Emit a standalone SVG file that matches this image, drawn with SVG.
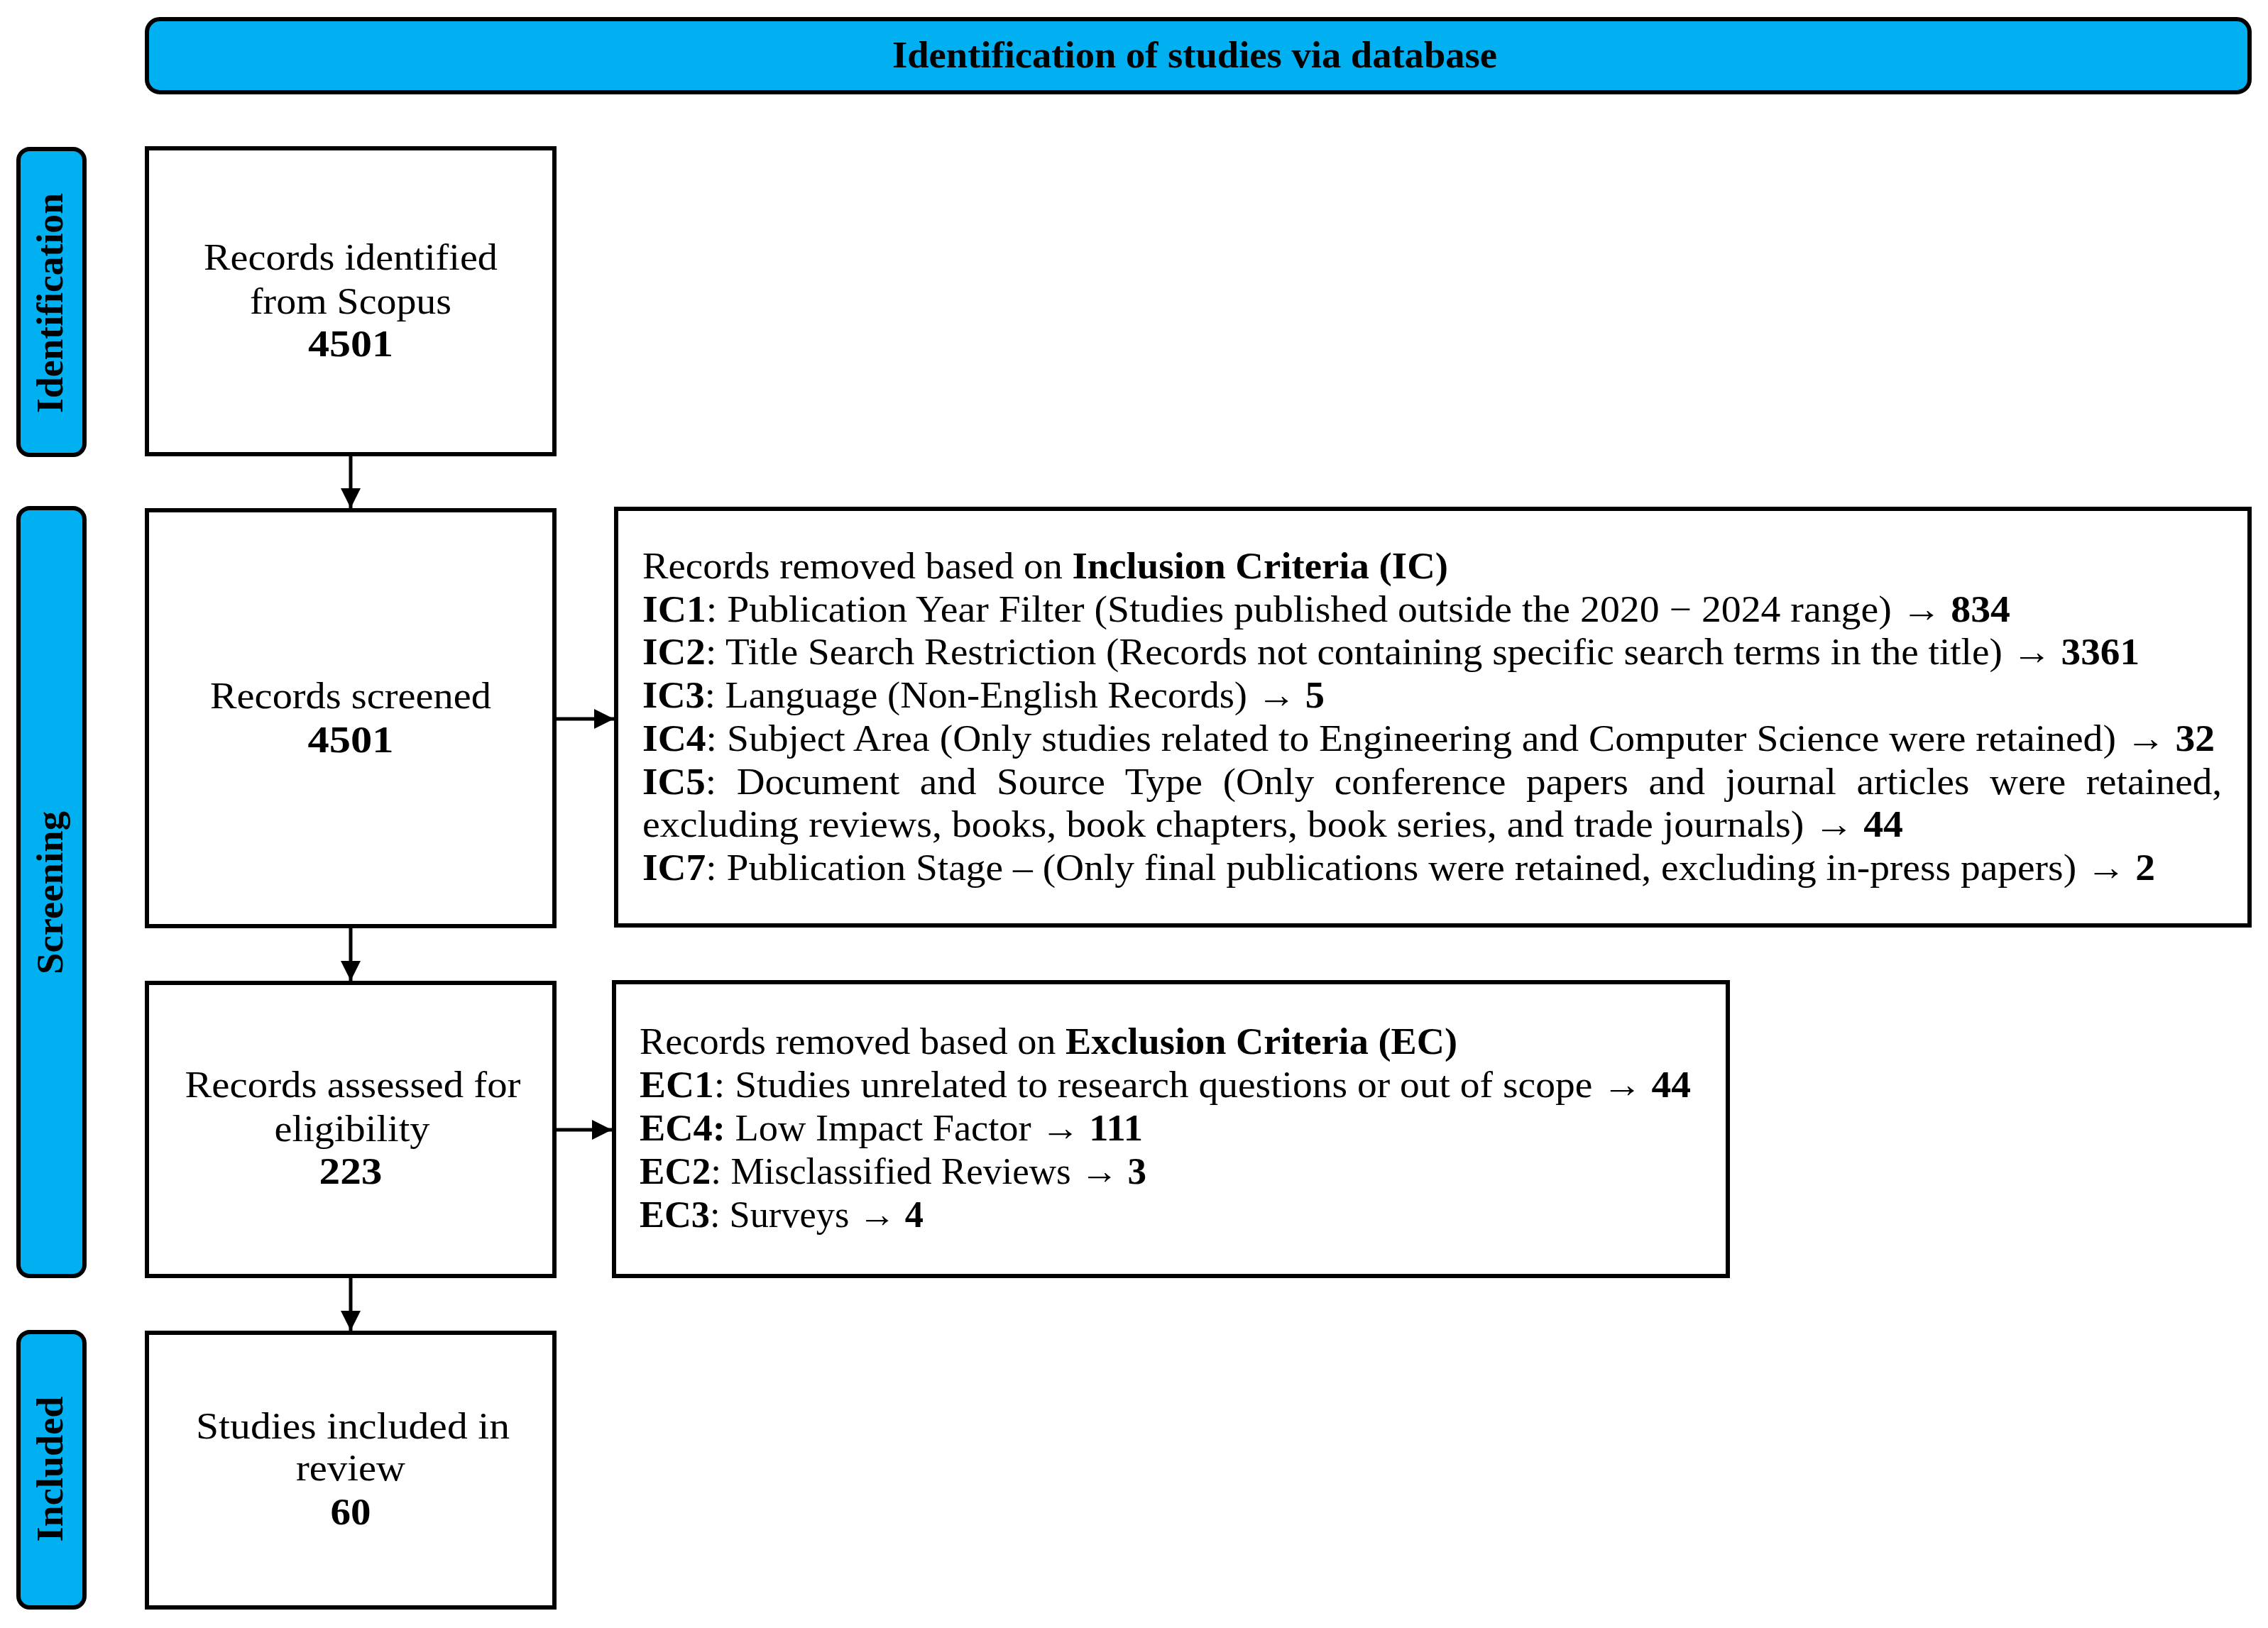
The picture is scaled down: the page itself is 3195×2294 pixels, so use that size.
<svg xmlns="http://www.w3.org/2000/svg" width="3195" height="2294" viewBox="0 0 3195 2294">
<style>
.box{fill:#fff;stroke:#000;stroke-width:6}
.lab{fill:#00B0F0;stroke:#000;stroke-width:6}
.t{font-family:"Liberation Serif","Times New Roman",serif;font-size:52px;fill:#000}
.c{text-anchor:middle}
.b{font-weight:bold}
.con{stroke:#000;stroke-width:5;fill:none;marker-end:url(#ah)}
</style>
<defs>
<marker id="ah" markerUnits="userSpaceOnUse" markerWidth="30" markerHeight="30" refX="28" refY="14" orient="auto"><path d="M0,0 L28,14 L0,28 z" fill="#000"/></marker>
</defs>
<rect width="3195" height="2294" fill="#fff"/>

<g id="banner">
<rect class="lab" x="207" y="27" width="2962" height="103" rx="18"/>
<text class="t c b" x="1683" y="95" textLength="852" lengthAdjust="spacingAndGlyphs">Identification of studies via database</text>
</g>

<g id="label-identification">
<rect class="lab" x="26" y="210" width="93" height="431" rx="16"/>
<text class="t c b" transform="translate(88,427) rotate(-90)" textLength="310" lengthAdjust="spacingAndGlyphs">Identification</text>
</g>
<g id="label-screening">
<rect class="lab" x="26" y="716" width="93" height="1082" rx="16"/>
<text class="t c b" transform="translate(88,1258) rotate(-90)" textLength="230" lengthAdjust="spacingAndGlyphs">Screening</text>
</g>
<g id="label-included">
<rect class="lab" x="26" y="1877" width="93" height="388" rx="16"/>
<text class="t c b" transform="translate(88,2070) rotate(-90)" textLength="205" lengthAdjust="spacingAndGlyphs">Included</text>
</g>

<g id="identified">
<rect class="box" x="207" y="209" width="574" height="431"/>
<text class="t c" x="494" y="380" textLength="414" lengthAdjust="spacingAndGlyphs">Records identified</text>
<text class="t c" x="494" y="442" textLength="284" lengthAdjust="spacingAndGlyphs">from Scopus</text>
<text class="t c b" x="494" y="502" textLength="120" lengthAdjust="spacingAndGlyphs">4501</text>
</g>

<g id="screened">
<rect class="box" x="207" y="719" width="574" height="586"/>
<text class="t c" x="494" y="998" textLength="396" lengthAdjust="spacingAndGlyphs">Records screened</text>
<text class="t c b" x="494" y="1060" textLength="121" lengthAdjust="spacingAndGlyphs">4501</text>
</g>

<g id="eligibility">
<rect class="box" x="207" y="1385" width="574" height="413"/>
<text class="t c" x="497" y="1546" textLength="473" lengthAdjust="spacingAndGlyphs">Records assessed for</text>
<text class="t c" x="496" y="1608" textLength="219" lengthAdjust="spacingAndGlyphs">eligibility</text>
<text class="t c b" x="494" y="1668" textLength="89" lengthAdjust="spacingAndGlyphs">223</text>
</g>

<g id="included">
<rect class="box" x="207" y="1878" width="574" height="387"/>
<text class="t c" x="497" y="2027" textLength="442" lengthAdjust="spacingAndGlyphs">Studies included in</text>
<text class="t c" x="494" y="2086" textLength="154" lengthAdjust="spacingAndGlyphs">review</text>
<text class="t c b" x="494" y="2148" textLength="57" lengthAdjust="spacingAndGlyphs">60</text>
</g>

<g id="inclusion-criteria">
<rect class="box" x="868" y="717" width="2301" height="587"/>
<text class="t" x="905" y="815" textLength="1135" lengthAdjust="spacingAndGlyphs">Records removed based on <tspan class="b">Inclusion Criteria (IC)</tspan></text>
<text class="t" x="905" y="876" textLength="1927" lengthAdjust="spacingAndGlyphs"><tspan class="b">IC1</tspan>: Publication Year Filter (Studies published outside the 2020 − 2024 range) → <tspan class="b">834</tspan></text>
<text class="t" x="905" y="936" textLength="2109" lengthAdjust="spacingAndGlyphs"><tspan class="b">IC2</tspan>: Title Search Restriction (Records not containing specific search terms in the title) → <tspan class="b">3361</tspan></text>
<text class="t" x="905" y="997" textLength="961" lengthAdjust="spacingAndGlyphs"><tspan class="b">IC3</tspan>: Language (Non-English Records) → <tspan class="b">5</tspan></text>
<text class="t" x="905" y="1058" textLength="2215" lengthAdjust="spacingAndGlyphs"><tspan class="b">IC4</tspan>: Subject Area (Only studies related to Engineering and Computer Science were retained) → <tspan class="b">32</tspan></text>
<text class="t" x="905" y="1119" textLength="2225" lengthAdjust="spacingAndGlyphs" word-spacing="14"><tspan class="b">IC5</tspan>: Document and Source Type (Only conference papers and journal articles were retained,</text>
<text class="t" x="905" y="1179" textLength="1776" lengthAdjust="spacingAndGlyphs">excluding reviews, books, book chapters, book series, and trade journals) → <tspan class="b">44</tspan></text>
<text class="t" x="905" y="1240" textLength="2131" lengthAdjust="spacingAndGlyphs"><tspan class="b">IC7</tspan>: Publication Stage – (Only final publications were retained, excluding in-press papers) → <tspan class="b">2</tspan></text>
</g>

<g id="exclusion-criteria">
<rect class="box" x="865" y="1384" width="1569" height="414"/>
<text class="t" x="901" y="1485" textLength="1152" lengthAdjust="spacingAndGlyphs">Records removed based on <tspan class="b">Exclusion Criteria (EC)</tspan></text>
<text class="t" x="901" y="1546" textLength="1481" lengthAdjust="spacingAndGlyphs"><tspan class="b">EC1</tspan>: Studies unrelated to research questions or out of scope → <tspan class="b">44</tspan></text>
<text class="t" x="901" y="1607" textLength="709" lengthAdjust="spacingAndGlyphs"><tspan class="b">EC4:</tspan> Low Impact Factor → <tspan class="b">111</tspan></text>
<text class="t" x="901" y="1668" textLength="714" lengthAdjust="spacingAndGlyphs"><tspan class="b">EC2</tspan>: Misclassified Reviews → <tspan class="b">3</tspan></text>
<text class="t" x="901" y="1729" textLength="400" lengthAdjust="spacingAndGlyphs"><tspan class="b">EC3</tspan>: Surveys → <tspan class="b">4</tspan></text>
</g>

<g id="connectors">
<line class="con" x1="494" y1="643" x2="494" y2="716"/>
<line class="con" x1="494" y1="1308" x2="494" y2="1382"/>
<line class="con" x1="494" y1="1801" x2="494" y2="1875"/>
<line class="con" x1="784" y1="1013" x2="865" y2="1013"/>
<line class="con" x1="784" y1="1592" x2="862" y2="1592"/>
</g>
</svg>
